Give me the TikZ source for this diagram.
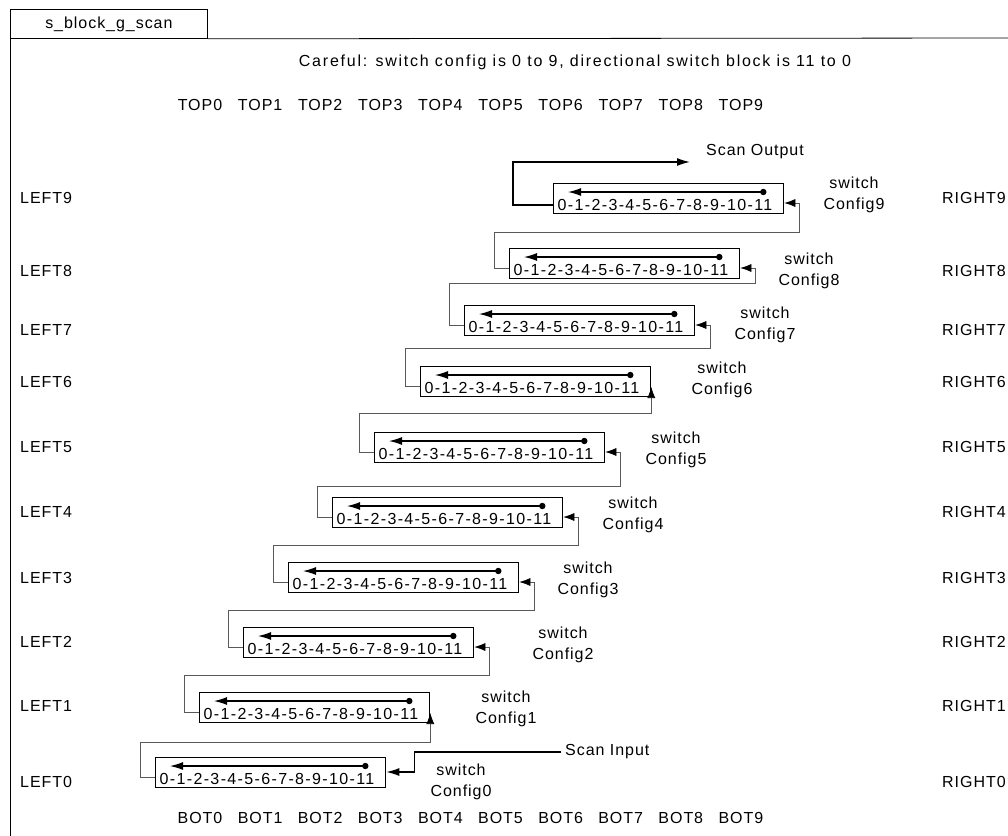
\documentclass[tikz,border=0pt]{standalone}
\usepackage{fontspec}
\setmainfont{Liberation Sans}[LetterSpace=6]
\usetikzlibrary{arrows.meta,calc}
\begin{document}
\begin{tikzpicture}[x=1pt,y=-1pt,
  every node/.style={font=\fontsize{16}{21}\selectfont, inner sep=0pt},
  lbl/.style={anchor=west},
  swbox/.style={draw, line width=1.3pt, minimum width=230pt, minimum height=30pt, anchor=north west},
  boxtxt/.style={anchor=base, font=\fontsize{16}{21}\selectfont\addfontfeature{LetterSpace=8.5}},
  conn/.style={draw=black!65, line width=0.6pt},
  inarr/.style={-{Latex[length=11pt,width=8pt,color=black]}},
  innerarr/.style={line width=1.2pt, -{Latex[length=13pt,width=8pt]}},
  scanline/.style={line width=1.3pt, -{Latex[length=13pt,width=8pt]}},
  cfg/.style={align=center}]
\useasboundingbox (0,0) rectangle (1008,835);

% frame and tab
\node[draw, line width=0.8pt, minimum width=197pt, minimum height=29pt, anchor=north west] (tab) at (10,9) {s\_block\_g\_scan};
\draw[line width=0.8pt] (tab.south east) -- (1012,38);
\draw[line width=0.8pt] (tab.south west) -- (10,840);

% heading and side labels
\node[font=\fontsize{16}{21}\selectfont\addfontfeature{LetterSpace=11}] (note) at (575,62) {Careful: switch config is 0 to 9, directional switch block is 11 to 0};
\foreach \k in {0,...,9}{
  \node (top\k) at (200+60.1*\k,105) {TOP\k};
  \node (bot\k) at (200+60.1*\k,818) {BOT\k};
}
\foreach \k/\yy in {9/198,8/271,7/330,6/382,5/447,4/512,3/578,2/642,1/706,0/782}{
  \node[lbl] (l\k) at (20,\yy) {LEFT\k};
  \node[lbl] (r\k) at (942,\yy) {RIGHT\k};
}

% switch blocks
\foreach \k/\xl/\yt in {0/155/757,1/199/692,2/243/627,3/288/562,4/332/497,5/374/432,6/420/366,7/464/305,8/509/248,9/553/183}{
  \node[swbox] (b\k) at (\xl,\yt) {};
  \node[boxtxt] (t\k) at (\xl+112,\yt+27) {0-1-2-3-4-5-6-7-8-9-10-11};
  \coordinate (d\k) at ([xshift=-21pt,yshift=-9pt]b\k.north east);
  \coordinate (a\k) at ([xshift=15pt,yshift=-9pt]b\k.north west);
  \fill (d\k) circle (3.2pt);
  \draw[innerarr] (d\k) -- (a\k);
}

% config labels
\foreach \k/\cx/\cy in {9/854/195,8/809/271,7/765/325,6/722/380,5/676/450,4/633/515,3/588/580,2/563/645,1/506/709,0/461/782}{
  \node[cfg] (c\k) at (\cx,\cy) {switch\\Config\k};
}

% levels of the scan chain
\coordinate (h01) at (0,742);
\coordinate (h12) at (0,675);
\coordinate (h23) at (0,610);
\coordinate (h34) at (0,545);
\coordinate (h45) at (0,486);
\coordinate (h56) at (0,413);
\coordinate (h67) at (0,348);
\coordinate (h78) at (0,283);
\coordinate (h89) at (0,232);

% chain connectors
\draw[conn,inarr] ([yshift=-20pt]b0.north west) -- ++(-15,0) |- (b1.north east |- h01) -- ([yshift=-21pt]b1.north east);
\draw[conn,inarr] ([yshift=-20pt]b1.north west) -- ++(-15,0) |- ($(b2.north east |- h12)+(15,0)$) |- ([yshift=-20pt]b2.north east);
\draw[conn,inarr] ([yshift=-20pt]b2.north west) -- ++(-15,0) |- ($(b3.north east |- h23)+(15,0)$) |- ([yshift=-20pt]b3.north east);
\draw[conn,inarr] ([yshift=-20pt]b3.north west) -- ++(-15,0) |- ($(b4.north east |- h34)+(15,0)$) |- ([yshift=-20pt]b4.north east);
\draw[conn,inarr] ([yshift=-20pt]b4.north west) -- ++(-15,0) |- ($(b5.north east |- h45)+(15,0)$) |- ([yshift=-20pt]b5.north east);
\draw[conn,inarr] ([yshift=-20pt]b5.north west) -- ++(-15,0) |- (b6.north east |- h56) -- ([yshift=-21pt]b6.north east);
\draw[conn,inarr] ([yshift=-20pt]b6.north west) -- ++(-15,0) |- ($(b7.north east |- h67)+(15,0)$) |- ([yshift=-20pt]b7.north east);
\draw[conn,inarr] ([yshift=-20pt]b7.north west) -- ++(-15,0) |- ($(b8.north east |- h78)+(15,0)$) |- ([yshift=-20pt]b8.north east);
\draw[conn,inarr] ([yshift=-20pt]b8.north west) -- ++(-15,0) |- ($(b9.north east |- h89)+(15,0)$) |- ([yshift=-20pt]b9.north east);

% scan input / output
\node[lbl] (si) at (565,752) {Scan Input};
\draw[scanline] ([xshift=-4pt]si.west) -| ([xshift=28pt,yshift=-15pt]b0.north east) -- ([yshift=-15pt]b0.north east);
\node[lbl] (so) at (706,152) {Scan Output};
\draw[scanline] ([yshift=-22pt]b9.north west) -- ++(-40,0) |- ([xshift=-16pt,yshift=-10pt]so.west);
\end{tikzpicture}
\end{document}
